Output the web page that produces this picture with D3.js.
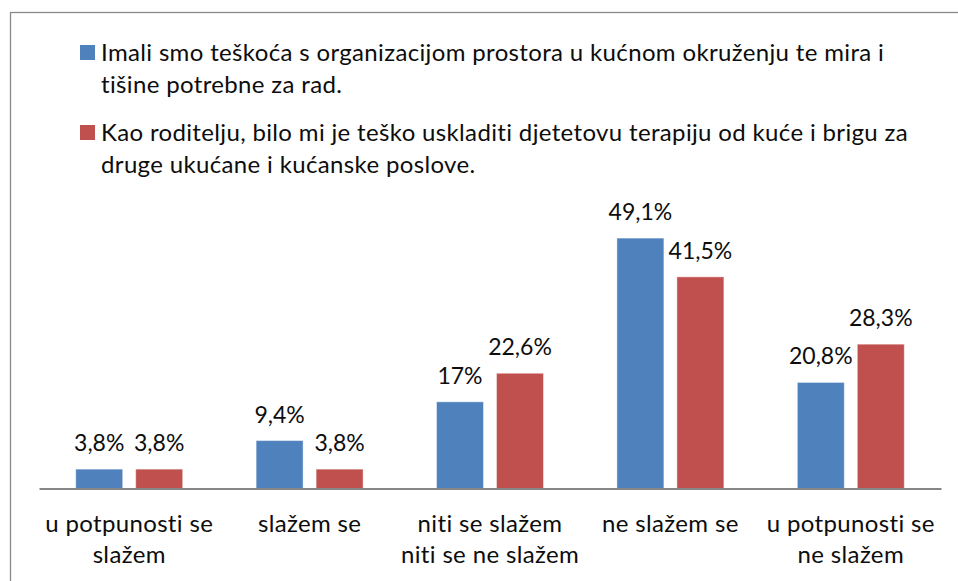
<!DOCTYPE html>
<html>
<head>
<meta charset="utf-8">
<script src="https://cdn.jsdelivr.net/npm/d3@7"></script>
<style>
  html, body { margin: 0; padding: 0; background: #fff; }
  svg { display: block; }
  text { font-family: Lato, "Open Sans", sans-serif; fill: #0d0d0d; }
</style>
</head>
<body>
<svg id="chart" width="958" height="581"></svg>
<script>
// ---- data ----
const categories = ["u potpunosti se slažem", "slažem se", "niti se slažem niti se ne slažem", "ne slažem se", "u potpunosti se ne slažem"];
const categoryLabelLines = [["u potpunosti se", "slažem"], ["slažem se"], ["niti se slažem", "niti se ne slažem"], ["ne slažem se"], ["u potpunosti se", "ne slažem"]];
const seriesNames = [
  "Imali smo teškoća s organizacijom prostora u kućnom okruženju te mira i tišine potrebne za rad.",
  "Kao roditelju, bilo mi je teško uskladiti djetetovu terapiju od kuće i brigu za druge ukućane i kućanske poslove."
];
const seriesLegendLines = [
  ["Imali smo teškoća s organizacijom prostora u kućnom okruženju te mira i", "tišine potrebne za rad."],
  ["Kao roditelju, bilo mi je teško uskladiti djetetovu terapiju od kuće i brigu za", "druge ukućane i kućanske poslove."]
];
const seriesA = [3.8, 9.4, 17, 49.1, 20.8];
const seriesB = [3.8, 3.8, 22.6, 41.5, 28.3];
const valueLabelsA = ["3,8%", "9,4%", "17%", "49,1%", "20,8%"];
const valueLabelsB = ["3,8%", "3,8%", "22,6%", "41,5%", "28,3%"];
const colors = ["#4F81BD", "#C0504D"];

// ---- drawing ----
const svg = d3.select("#chart");
const FS_VAL = 23;
const FS_TXT = 24;
const LS_TXT = 0.35;

// outer frame (extends beyond the visible area)
svg.append("rect")
  .attr("x", 10.5).attr("y", 12.5)
  .attr("width", 960).attr("height", 600)
  .attr("fill", "none").attr("stroke", "#8a8a8a").attr("stroke-width", 1.3);

const axisY = 488.5;
const x0 = d3.scaleBand().domain(categories).range([39, 941]).paddingInner(0.407).paddingOuter(0.2035);
const x1 = d3.scaleBand().domain([0, 1]).range([0, x0.bandwidth()]).paddingInner(0.2167).paddingOuter(0);
const y = d3.scaleLinear().domain([0, 60]).range([axisY, axisY - 306]);

const rows = categories.map((c, i) => ({
  cat: c,
  vals: [
    { s: 0, v: seriesA[i], label: valueLabelsA[i] },
    { s: 1, v: seriesB[i], label: valueLabelsB[i] }
  ]
}));

const groups = svg.append("g").selectAll("g").data(rows).join("g")
  .attr("transform", d => `translate(${x0(d.cat)},0)`);

groups.selectAll("rect").data(d => d.vals).join("rect")
  .attr("x", d => x1(d.s))
  .attr("y", d => y(d.v))
  .attr("width", x1.bandwidth())
  .attr("height", d => axisY - y(d.v))
  .attr("fill", d => colors[d.s])
  .attr("stroke", "rgba(255,255,255,0.45)")
  .attr("stroke-width", 1);

groups.selectAll("text.val").data(d => d.vals).join("text")
  .attr("class", "val")
  .attr("x", d => x1(d.s) + x1.bandwidth() / 2)
  .attr("y", d => y(d.v) - 18)
  .attr("text-anchor", "middle")
  .attr("font-size", FS_VAL)
  .text(d => d.label);

// x axis
const xAxis = d3.axisBottom(x0).tickSize(0).tickFormat("");
const axG = svg.append("g").attr("transform", `translate(0,${axisY})`).call(xAxis);
axG.select(".domain").attr("stroke", "#868686").attr("stroke-width", 2);

// category labels
svg.append("g").selectAll("text").data(categories).join("text")
  .attr("text-anchor", "middle")
  .attr("font-size", FS_TXT)
  .attr("letter-spacing", LS_TXT)
  .attr("x", d => x0(d) + x0.bandwidth() / 2)
  .attr("y", 532)
  .each(function(d, i) {
    d3.select(this).selectAll("tspan").data(categoryLabelLines[i]).join("tspan")
      .attr("x", x0(d) + x0.bandwidth() / 2)
      .attr("dy", (t, j) => j === 0 ? 0 : 31)
      .text(t => t);
  });

// legend
const legendTop = [45, 125];
const leg = svg.append("g").selectAll("g").data(seriesNames).join("g");
leg.append("rect")
  .attr("x", 80).attr("y", (d, i) => legendTop[i])
  .attr("width", 15).attr("height", 15)
  .attr("fill", (d, i) => colors[i]);
leg.append("text")
  .attr("font-size", FS_TXT)
  .attr("letter-spacing", LS_TXT)
  .attr("x", 101)
  .attr("y", (d, i) => legendTop[i] + 16)
  .each(function(d, i) {
    d3.select(this).selectAll("tspan").data(seriesLegendLines[i]).join("tspan")
      .attr("x", 101)
      .attr("dy", (t, j) => j === 0 ? 0 : 31.5)
      .text(t => t);
  });
</script>
</body>
</html>
